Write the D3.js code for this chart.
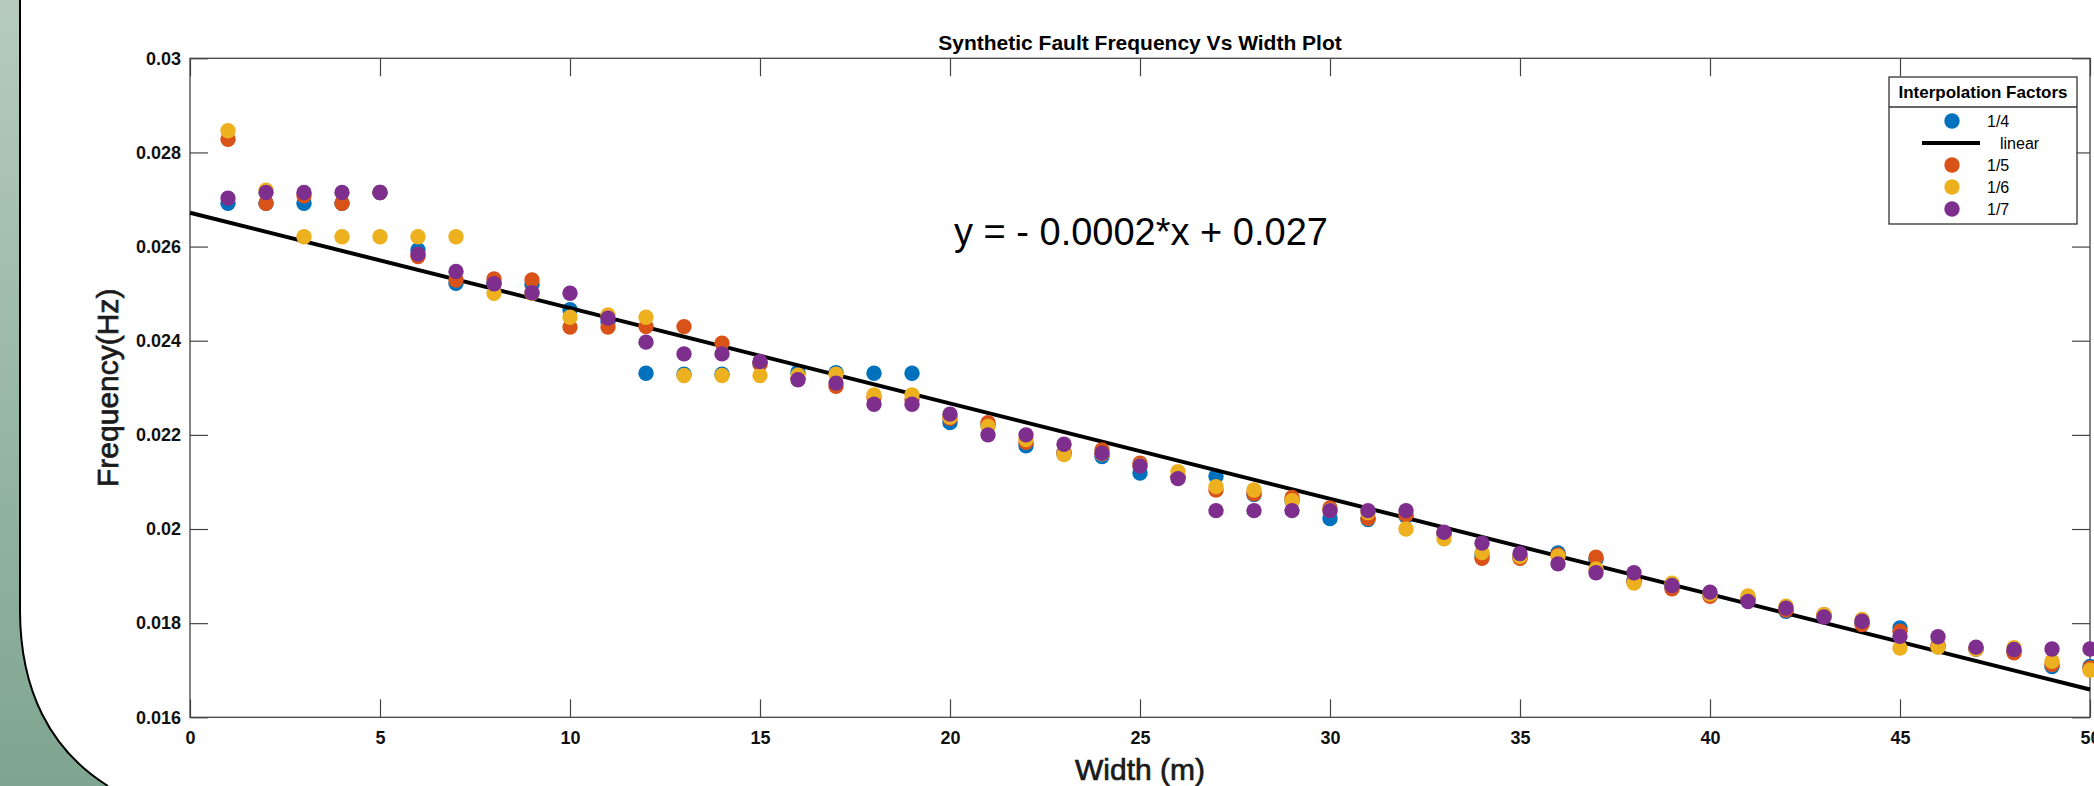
<!DOCTYPE html>
<html>
<head>
<meta charset="utf-8">
<script src="https://cdn.jsdelivr.net/npm/d3@7"></script>
<style>
  body { margin: 0; background: #fff; }
  svg { display: block; font-family: "Liberation Sans", Arial, sans-serif; }
</style>
</head>
<body>
<svg id="vis"></svg>
<script>
const WIDTH = 2094;
const HEIGHT = 786;

// anchos (m)
const widths = [1,2,3,4,5,6,7,8,9,10,11,12,13,14,15,16,17,18,19,20,21,22,23,24,25,
                26,27,28,29,30,31,32,33,34,35,36,37,38,39,40,41,42,43,44,45,46,47,48,49,50];

// frecuencias, una lista por factor de interpolacion
const freq_1_4 = [0.02692,0.02692,0.02692,0.02692,0.02715,0.02593,0.02522,0.02522,0.02520,0.02466,
                  0.02440,0.02331,0.02329,0.02329,0.02351,0.02333,0.02332,0.02331,0.02331,0.02226,
                  0.02222,0.02177,0.02160,0.02154,0.02119,0.02110,0.02112,0.02073,0.02060,0.02022,
                  0.02020,0.02027,0.01990,0.01945,0.01940,0.01949,0.01935,0.01890,0.01875,0.01860,
                  0.01852,0.01825,0.01815,0.01800,0.01790,0.01750,0.01745,0.01740,0.01708,0.01708];
const freq_1_5 = [0.02828,0.02692,0.02708,0.02692,0.02715,0.02579,0.02529,0.02531,0.02529,0.02429,
                  0.02429,0.02430,0.02430,0.02395,0.02351,0.02320,0.02303,0.02280,0.02275,0.02235,
                  0.02226,0.02184,0.02162,0.02168,0.02140,0.02112,0.02083,0.02075,0.02067,0.02045,
                  0.02023,0.02030,0.01990,0.01938,0.01938,0.01945,0.01940,0.01888,0.01873,0.01857,
                  0.01852,0.01828,0.01818,0.01797,0.01783,0.01752,0.01745,0.01737,0.01712,0.01705];
const freq_1_6 = [0.02846,0.02720,0.02621,0.02621,0.02621,0.02621,0.02621,0.02501,0.02501,0.02450,
                  0.02455,0.02450,0.02326,0.02326,0.02326,0.02327,0.02329,0.02285,0.02285,0.02238,
                  0.02218,0.02190,0.02158,0.02160,0.02135,0.02122,0.02090,0.02083,0.02060,0.02040,
                  0.02035,0.02000,0.01979,0.01950,0.01942,0.01942,0.01915,0.01885,0.01885,0.01862,
                  0.01858,0.01836,0.01818,0.01808,0.01747,0.01749,0.01745,0.01748,0.01719,0.01700];
const freq_1_7 = [0.02703,0.02715,0.02715,0.02715,0.02715,0.02584,0.02547,0.02521,0.02502,0.02501,
                  0.02448,0.02397,0.02372,0.02372,0.02356,0.02317,0.02310,0.02265,0.02265,0.02244,
                  0.02200,0.02200,0.02180,0.02161,0.02134,0.02107,0.02039,0.02039,0.02039,0.02039,
                  0.02039,0.02039,0.01993,0.01970,0.01948,0.01926,0.01907,0.01907,0.01880,0.01866,
                  0.01846,0.01832,0.01813,0.01804,0.01772,0.01771,0.01749,0.01744,0.01745,0.01745];

// ajuste lineal
const fitX = [0, 50];
const fitSlope = -0.0002026;
const fitIntercept = 0.02672;

const xTicks = [0, 5, 10, 15, 20, 25, 30, 35, 40, 45, 50];
const yTicks = [0.016, 0.018, 0.02, 0.022, 0.024, 0.026, 0.028, 0.03];
const yTickLabels = ["0.016", "0.018", "0.02", "0.022", "0.024", "0.026", "0.028", "0.03"];

const legendLabels = ["1/4", "linear", "1/5", "1/6", "1/7"];
const seriesColors = ["#0072BD", "#D95319", "#EDB120", "#7E2F8E"];

const svg = d3.select("#vis")
    .attr("width", WIDTH)
    .attr("height", HEIGHT);

// fondo de la diapositiva (panel verde a la izquierda)
const defs = svg.append("defs");
const grad = defs.append("linearGradient")
    .attr("id", "verde")
    .attr("x1", 0).attr("y1", 0).attr("x2", 0).attr("y2", 1);
grad.append("stop").attr("offset", "0%").attr("stop-color", "#b6cbbe");
grad.append("stop").attr("offset", "100%").attr("stop-color", "#7ea58f");

svg.append("path")
    .attr("d", "M0,0 L20,0 L20,610 C20,690 50,750 108,786 L0,786 Z")
    .attr("fill", "url(#verde)");
svg.append("path")
    .attr("d", "M20,0 L20,610 C20,690 50,750 108,786")
    .attr("fill", "none")
    .attr("stroke", "#000")
    .attr("stroke-width", 2);

const x = d3.scaleLinear().domain([0, 50]).range([190, 2090]);
const y = d3.scaleLinear().domain([0.016, 0.03]).range([717.3, 58.3]);

// ejes (ticks hacia adentro, estilo matlab)
function estiloEje(g) {
    g.select(".domain").remove();
    g.selectAll(".tick line").attr("stroke", "#444").attr("stroke-width", 1.2);
    g.selectAll(".tick text")
        .attr("font-family", "'Liberation Sans', Arial, sans-serif")
        .attr("font-size", 18)
        .attr("font-weight", "bold")
        .attr("fill", "#111");
}

svg.append("g")
    .attr("transform", `translate(0, ${y(0.016)})`)
    .call(d3.axisBottom(x).tickValues(xTicks).tickSize(-18).tickPadding(14).tickFormat(d3.format("d")))
    .call(estiloEje);

svg.append("g")
    .attr("transform", `translate(0, ${y(0.03)})`)
    .call(d3.axisTop(x).tickValues(xTicks).tickSize(-18).tickFormat(""))
    .call(estiloEje);

svg.append("g")
    .attr("transform", `translate(${x(0)}, 0)`)
    .call(d3.axisLeft(y).tickValues(yTicks).tickSize(-18).tickPadding(9)
        .tickFormat((d, i) => yTickLabels[i]))
    .call(estiloEje);

svg.append("g")
    .attr("transform", `translate(${x(50)}, 0)`)
    .call(d3.axisRight(y).tickValues(yTicks).tickSize(-18).tickFormat(""))
    .call(estiloEje);

// caja
svg.append("rect")
    .attr("x", x(0))
    .attr("y", y(0.03))
    .attr("width", x(50) - x(0))
    .attr("height", y(0.016) - y(0.03))
    .attr("fill", "none")
    .attr("stroke", "#444")
    .attr("stroke-width", 1.3);

function puntos(valores, color, clase) {
    svg.selectAll("." + clase)
        .data(valores)
        .join("circle")
        .attr("class", clase)
        .attr("cx", (d, i) => x(widths[i]))
        .attr("cy", d => y(d))
        .attr("r", 7.7)
        .attr("fill", color);
}

const lineGenerator = d3.line()
    .x(d => x(d))
    .y(d => y(fitIntercept + fitSlope * d));

// mismo orden que la leyenda
puntos(freq_1_4, seriesColors[0], "f14");
svg.append("path")
    .datum(fitX)
    .attr("d", lineGenerator)
    .attr("fill", "none")
    .attr("stroke", "#000")
    .attr("stroke-width", 4);
puntos(freq_1_5, seriesColors[1], "f15");
puntos(freq_1_6, seriesColors[2], "f16");
puntos(freq_1_7, seriesColors[3], "f17");

// textos
svg.append("text")
    .attr("x", (x(0) + x(50)) / 2)
    .attr("y", 50)
    .attr("text-anchor", "middle")
    .attr("font-size", 21)
    .attr("font-weight", "bold")
    .attr("fill", "#000")
    .text("Synthetic Fault Frequency Vs Width Plot");

svg.append("text")
    .attr("x", (x(0) + x(50)) / 2)
    .attr("y", 780)
    .attr("text-anchor", "middle")
    .attr("font-size", 30)
    .attr("fill", "#1a1a1a")
    .attr("stroke", "#1a1a1a")
    .attr("stroke-width", 0.7)
    .text("Width (m)");

svg.append("text")
    .attr("transform", `translate(118, ${(y(0.016) + y(0.03)) / 2}) rotate(-90)`)
    .attr("text-anchor", "middle")
    .attr("font-size", 30)
    .attr("fill", "#1a1a1a")
    .attr("stroke", "#1a1a1a")
    .attr("stroke-width", 0.7)
    .text("Frequency(Hz)");

svg.append("text")
    .attr("x", 954)
    .attr("y", 245)
    .attr("font-size", 38)
    .attr("fill", "#000")
    .text("y = - 0.0002*x + 0.027");

// leyenda
const leg = svg.append("g").attr("transform", "translate(1889, 77)");
leg.append("rect")
    .attr("width", 188)
    .attr("height", 147)
    .attr("fill", "#fff")
    .attr("stroke", "#333")
    .attr("stroke-width", 1.3);
leg.append("line")
    .attr("x1", 0).attr("x2", 188)
    .attr("y1", 30).attr("y2", 30)
    .attr("stroke", "#333")
    .attr("stroke-width", 1.3);
leg.append("text")
    .attr("x", 94)
    .attr("y", 21)
    .attr("text-anchor", "middle")
    .attr("font-size", 17)
    .attr("font-weight", "bold")
    .text("Interpolation Factors");

const legColors = [seriesColors[0], null, seriesColors[1], seriesColors[2], seriesColors[3]];
legendLabels.forEach((lab, i) => {
    const cy = 44 + i * 22;
    if (legColors[i]) {
        leg.append("circle").attr("cx", 63).attr("cy", cy).attr("r", 7.7).attr("fill", legColors[i]);
        leg.append("text").attr("x", 98).attr("y", cy + 6).attr("font-size", 16).text(lab);
    } else {
        leg.append("line")
            .attr("x1", 33).attr("x2", 91)
            .attr("y1", cy).attr("y2", cy)
            .attr("stroke", "#000").attr("stroke-width", 4);
        leg.append("text").attr("x", 111).attr("y", cy + 6).attr("font-size", 16).text(lab);
    }
});
</script>
</body>
</html>
